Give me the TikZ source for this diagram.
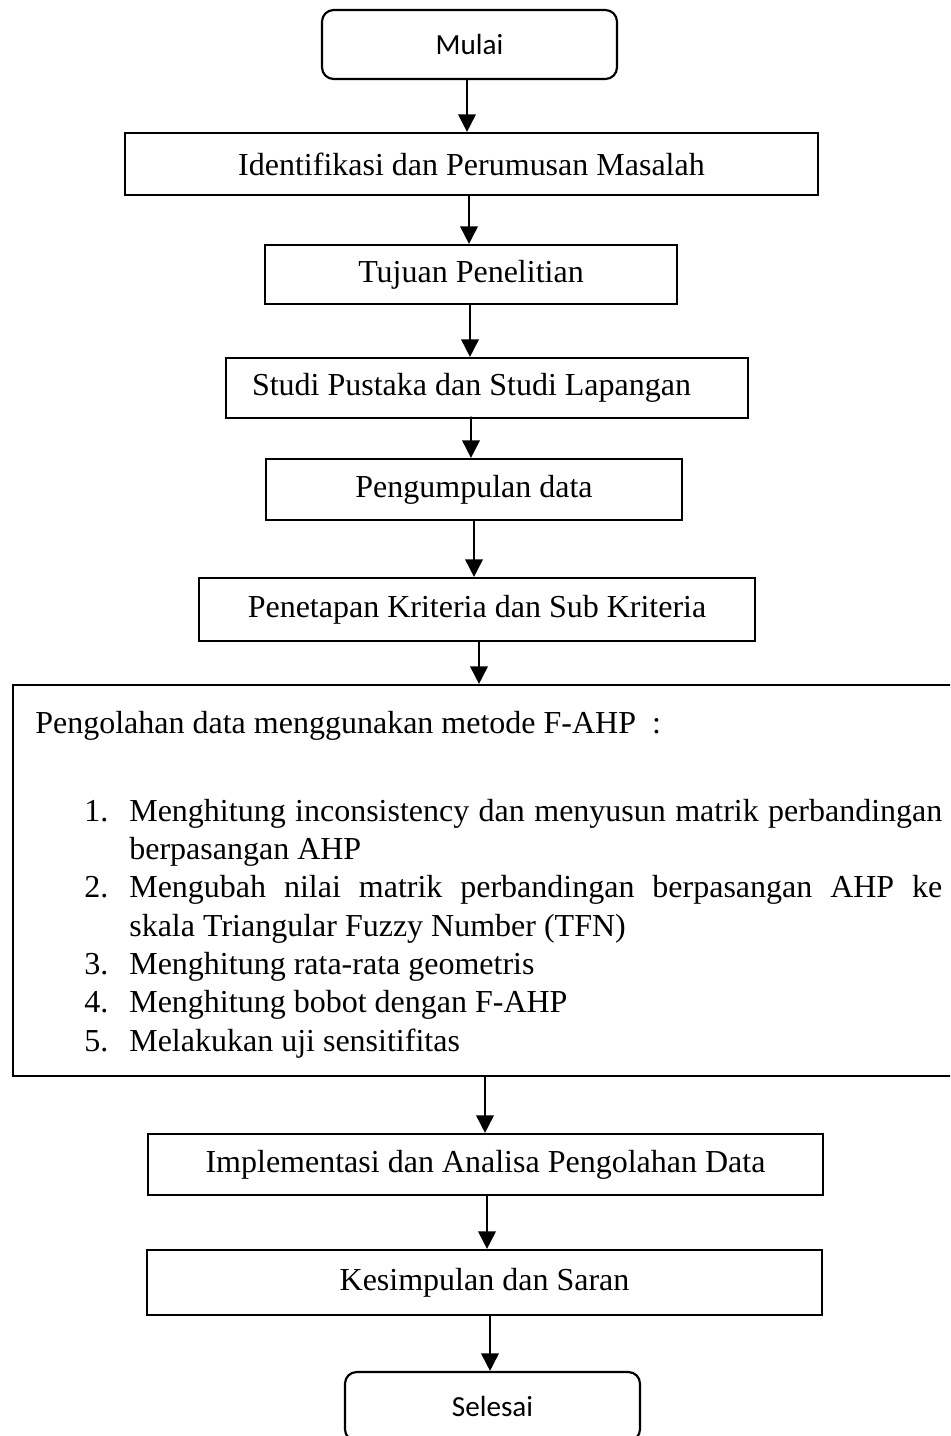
\documentclass[tikz,border=0pt]{standalone}
\usepackage{fontspec}
\setmainfont{Liberation Serif}
\newfontfamily\roundfont{Carlito}
\usetikzlibrary{arrows.meta}

\newcommand\flowfont{\fontsize{19.2}{23}\selectfont}
\newcommand\termfont{\roundfont\fontsize{17.5}{20}\selectfont}

\begin{document}
\begin{tikzpicture}[x=0.6pt,y=-0.6pt,
  stepbox/.style={draw, line width=1.3pt, inner sep=0pt, font=\flowfont,
    minimum width=#1},
  terminal/.style={draw, line width=1.3pt, rounded corners=7pt, inner sep=0pt,
    font=\termfont, minimum width=177pt, minimum height=41.4pt},
  txt/.style={anchor=base west, inner sep=0pt, font=\flowfont},
  arr/.style={line width=1.1pt, -{Triangle[width=10.5pt,length=10.5pt]}}]

\clip (0,0) rectangle (950,1436);

% process chain
\node[terminal] (mulai) at (469.5,44.5) {Mulai};
\node[stepbox=415.8pt, minimum height=37.2pt] (ident) at (471.5,164) {Identifikasi dan Perumusan Masalah};
\node[stepbox=247.2pt, minimum height=35.4pt] (tujuan) at (471,274.5) {Tujuan Penelitian};
\node[stepbox=313.2pt, minimum height=36pt] (studi) at (487,388) {\makebox[313.2pt][l]{\hspace{15.6pt}Studi Pustaka dan Studi Lapangan}};
\node[stepbox=249.6pt, minimum height=36.6pt] (kumpul) at (474,489.5) {Pengumpulan data};
\node[stepbox=333.6pt, minimum height=37.8pt] (kriteria) at (477,609.5) {Penetapan Kriteria dan Sub Kriteria};

% F-AHP processing block
\node[draw, line width=1.3pt, inner sep=0pt, minimum width=571.2pt, minimum height=234.6pt] (fahp) at (489,880.5) {};
\node[txt] (fhead) at (35,733) {Pengolahan data menggunakan metode F-AHP\ \ :};
\node[txt] (n1) at (84,821) {1.};
\node[txt] (t1a) at (129,821) {\makebox[487.8pt][s]{Menghitung inconsistency dan menyusun matrik perbandingan}};
\node[txt] (t1b) at (129,859) {berpasangan AHP};
\node[txt] (n2) at (84,897) {2.};
\node[txt] (t2a) at (129,897) {\makebox[487.8pt][s]{Mengubah nilai matrik perbandingan berpasangan AHP ke}};
\node[txt] (t2b) at (129,936) {skala Triangular Fuzzy Number (TFN)};
\node[txt] (n3) at (84,974) {3.};
\node[txt] (t3) at (129,974) {Menghitung rata-rata geometris};
\node[txt] (n4) at (84,1012) {4.};
\node[txt] (t4) at (129,1012) {Menghitung bobot dengan F-AHP};
\node[txt] (n5) at (84,1051) {5.};
\node[txt] (t5) at (129,1051) {Melakukan uji sensitifitas};

\node[stepbox=405pt, minimum height=36.6pt] (impl) at (485.5,1164.5) {Implementasi dan Analisa Pengolahan Data};
\node[stepbox=405pt, minimum height=39pt] (saran) at (484.5,1282.5) {Kesimpulan dan Saran};
\node[terminal] (selesai) at (492.5,1406.5) {Selesai};

% connectors
\draw[arr] ([xshift=-1.5pt]mulai.south) -- ([xshift=-2.7pt]ident.north);
\draw[arr] ([xshift=-1.5pt]ident.south) -- ([xshift=-1.2pt]tujuan.north);
\draw[arr] ([xshift=-0.6pt]tujuan.south) -- ([xshift=-10.2pt]studi.north);
\draw[arr] ([xshift=-9.6pt,yshift=1.5pt]studi.south) -- ([xshift=-1.8pt]kumpul.north);
\draw[arr] (kumpul.south) -- ([xshift=-1.8pt]kriteria.north);
\draw[arr] ([xshift=1.2pt]kriteria.south) -- ([xshift=-6pt]fahp.north);
\draw[arr] ([xshift=-2.4pt]fahp.south) -- ([xshift=-0.3pt]impl.north);
\draw[arr] ([xshift=0.9pt]impl.south) -- ([xshift=1.5pt]saran.north);
\draw[arr] ([xshift=3.3pt]saran.south) -- ([xshift=-1.5pt]selesai.north);
\end{tikzpicture}
\end{document}
